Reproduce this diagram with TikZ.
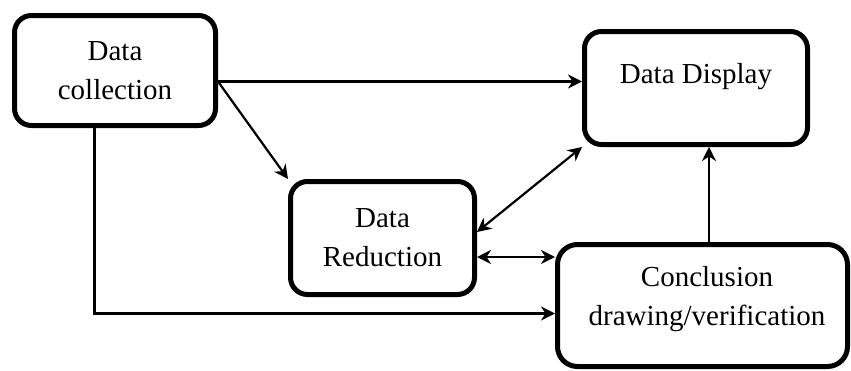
\documentclass[tikz,border=0pt]{standalone}
\usepackage{fontspec}
\setmainfont{Liberation Serif}
\usetikzlibrary{arrows.meta,calc}
\begin{document}
\begin{tikzpicture}[x=1pt,y=-1pt,
  box/.style={draw, line width=5pt, rounded corners=17pt, inner sep=0pt, align=center,
    font=\fontsize{29}{39}\selectfont},
  lbl/.style={align=center, font=\fontsize{29}{39}\selectfont, inner sep=0pt},
  tip/.tip={Stealth[length=14pt,width=14pt,inset=4.5pt]},
  link/.style={line width=2.2pt, -tip},
  both/.style={line width=2.2pt, tip-tip}]
\useasboundingbox (0,0) rectangle (851,370);

% boxes
\node[box, minimum width=201pt, minimum height=110pt] (collect) at (115,70.5) {Data\\collection};
\node[box, minimum width=223pt, minimum height=113pt] (display) at (696,88) {};
\node[lbl, anchor=base] (displaytext) at ($(display.center)+(0,-5)$) {Data Display};
\node[box, minimum width=184pt, minimum height=113pt] (reduce) at (382.5,238) {Data\\Reduction};
\node[box, minimum width=290pt, minimum height=122pt, rounded corners=20pt] (concl) at (702.5,305.5) {};
\node[lbl] (concltext) at (707,299) {Conclusion\\drawing/verification};

% connectors
\coordinate (cs) at ($(collect.east)+(0,11)$);
\draw[link] (cs) -- (cs -| display.west);
\draw[link] (cs) -- (reduce.north west);
\coordinate (rd) at ($(reduce.east)+(0,-6)$);
\draw[both] (display.south west) -- (rd);
\coordinate (rc) at ($(reduce.east)+(0,19)$);
\draw[both] (rc) -- (rc -| concl.west);
\coordinate (cb) at ($(collect.south)+(-20.5,0)$);
\coordinate (cw) at ($(concl.west)+(0,8)$);
\draw[link] (cb) |- (cw);
\coordinate (dv) at ($(display.south)+(13,0)$);
\draw[link] (dv |- concl.north) -- (dv);
\end{tikzpicture}
\end{document}
